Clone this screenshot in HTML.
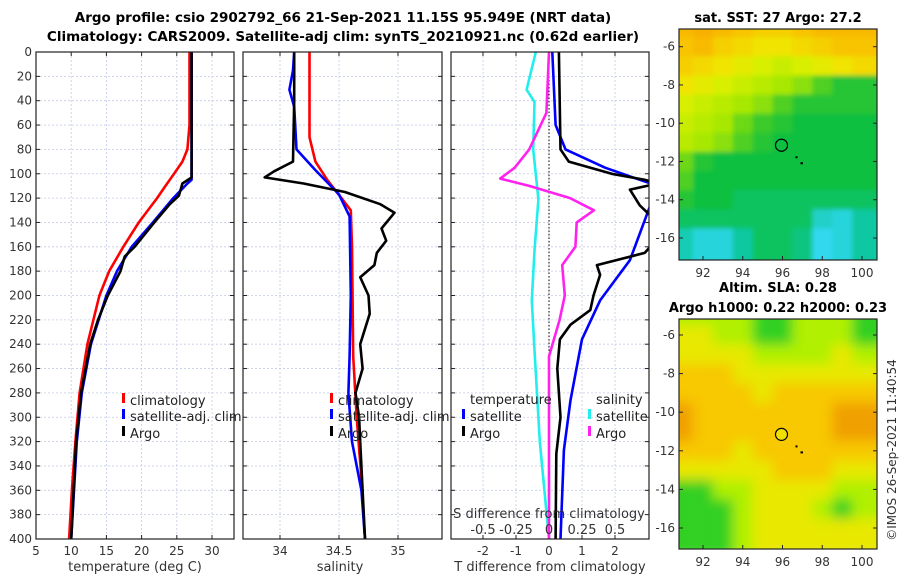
<!DOCTYPE html>
<html><head><meta charset="utf-8">
<style>
html,body{margin:0;padding:0;background:#fff;}
svg{display:block;font-family:"DejaVu Sans","Liberation Sans",sans-serif;}
.tk{font-size:12px;fill:#333;}
.ttl{font-size:13px;font-weight:bold;fill:#000;}
.lg{font-size:13px;fill:#222;}
</style></head>
<body>
<svg id="fig" width="900" height="580" viewBox="0 0 900 580">
<defs>
<clipPath id="c1"><rect x="36" y="52" width="198" height="487"/></clipPath>
<clipPath id="c2"><rect x="243" y="52" width="199" height="487"/></clipPath>
<clipPath id="c3"><rect x="451" y="52" width="198" height="487"/></clipPath>
<clipPath id="cm1"><rect x="679" y="29" width="198" height="231"/></clipPath>
<clipPath id="cm2"><rect x="679" y="319" width="198" height="230"/></clipPath>
<filter id="blr" x="-5%" y="-5%" width="110%" height="110%"><feGaussianBlur stdDeviation="6"/></filter>
<filter id="blr2" x="-5%" y="-5%" width="110%" height="110%"><feGaussianBlur stdDeviation="2.5"/></filter>
</defs>
<text class="ttl" x="343" y="22" text-anchor="middle" style="font-size:13.5px">Argo profile: csio 2902792_66 21-Sep-2021 11.15S 95.949E (NRT data)</text>
<text class="ttl" x="343" y="41" text-anchor="middle" style="font-size:13.5px">Climatology: CARS2009. Satellite-adj clim: synTS_20210921.nc (0.62d earlier)</text>
<text class="ttl" x="778" y="22" text-anchor="middle">sat. SST: 27 Argo: 27.2</text>
<text class="ttl" x="778" y="292" text-anchor="middle">Altim. SLA: 0.28</text>
<text class="ttl" x="778" y="312" text-anchor="middle">Argo h1000: 0.22 h2000: 0.23</text>
<text class="tk" transform="translate(896,450) rotate(-90)" text-anchor="middle" style="font-size:12px">©IMOS 26-Sep-2021 11:40:54</text>
<g id="root"></g>
</svg>
<script>
// ---- depth axis ----
const depthTicks=[0,20,40,60,80,100,120,140,160,180,200,220,240,260,280,300,320,340,360,380,400];
// ---- temperature panel ----
const tTicks=[5,10,15,20,25,30];
const climTdepth=[0,60,80,90,100,110,120,140,160,180,200,240,280,320,360,400];
const climT=[26.8,26.8,26.5,25.8,24.6,23.4,22.2,19.6,17.4,15.4,14.0,12.3,11.2,10.6,10.1,9.7];
const satTdepth=[0,105,108,120,140,160,180,200,240,280,320,400];
const satT=[27.1,27.1,26.5,24.5,21.6,18.6,16.5,15.0,12.8,11.5,10.8,10.0];
const argoTdepth=[0,103,108,118,125,140,160,168,180,200,220,240,280,320,400];
const argoT=[27.1,27.1,25.8,25.3,24.0,21.8,19.0,17.6,17.0,15.2,13.8,12.7,11.4,10.7,10.0];
// ---- salinity panel ----
const sTicks=[34,34.5,35];
const climSdepth=[0,70,90,105,120,130,160,250,300,350,400];
const climS=[34.25,34.25,34.3,34.4,34.52,34.6,34.61,34.62,34.65,34.69,34.72];
const satSdepth=[0,15,31,45,80,97,117,135,200,250,280,320,360,400];
const satS=[34.12,34.11,34.08,34.12,34.14,34.3,34.5,34.59,34.6,34.59,34.58,34.61,34.69,34.72];
const argoSdepth=[0,40,90,98,103,108,115,125,132,145,155,165,175,185,200,215,240,260,280,300,320,400];
const argoS=[34.12,34.12,34.11,33.95,33.87,34.2,34.55,34.85,34.97,34.86,34.9,34.82,34.8,34.68,34.75,34.76,34.68,34.7,34.64,34.67,34.68,34.72];
// ---- difference panel ----
const dTTicks=[-2,-1,0,1,2];
const dSTickVals=[-0.5,-0.25,0,0.25,0.5];
const dSTickLabels=["-0.5","-0.25","0","0.25","0.5"];
const dTsatDepth=[0,60,80,95,105,110,131,171,204,236,286,327,400];
const dTsat=[0.1,0.2,0.5,1.7,2.75,3.3,3.0,2.45,1.55,1.0,0.65,0.45,0.35];
const dTargoDepth=[0,80,90,100,105,108,113,126,135,150,165,175,183,200,212,224,236,260,300,330,400];
const dTargo=[0.3,0.35,0.6,1.9,2.9,3.3,2.45,2.75,3.1,3.4,2.9,1.45,1.55,1.35,1.25,0.65,0.33,0.25,0.35,0.22,0.2];
const dSsatDepth=[0,31,41,80,121,163,204,245,320,400];
const dSsat=[-0.1,-0.17,-0.11,-0.12,-0.08,-0.11,-0.13,-0.11,-0.07,0.0];
const dSargoDepth=[0,50,80,95,104,110,120,130,140,160,175,200,220,250,300,400];
const dSargo=[0.0,-0.02,-0.15,-0.26,-0.37,-0.15,0.16,0.34,0.21,0.2,0.1,0.12,0.08,0.0,0.0,0.0];
// ---- maps ----
const lonTicks=[92,94,96,98,100];
const latTicks=[-6,-8,-10,-12,-14,-16];
const sstGrid=[
[28.4,28.5,28.4,28.3,28.2,28.2,28.3,28.4,28.4,28.4],
[28.3,28.4,28.2,28.1,28.0,28.0,28.1,28.2,28.3,28.3],
[28.2,28.1,28.0,27.9,27.8,27.7,27.8,27.9,28.0,28.1],
[28.0,27.9,27.8,27.7,27.6,27.5,27.4,27.2,27.0,27.0],
[27.8,27.7,27.6,27.5,27.4,27.2,27.0,27.0,27.0,27.0],
[27.7,27.6,27.5,27.3,27.1,27.0,26.9,26.9,26.9,26.9],
[27.6,27.5,27.4,27.2,27.0,26.9,26.9,26.9,26.9,26.9],
[27.3,27.0,26.9,26.9,26.9,26.9,26.9,26.9,26.9,26.9],
[27.2,26.9,26.9,26.9,26.9,26.9,26.9,26.9,26.9,26.9],
[27.0,26.9,26.9,26.8,26.8,26.8,26.8,26.8,26.8,26.8],
[26.8,26.8,26.8,26.8,26.8,26.8,26.8,26.4,26.3,26.6],
[26.5,26.3,26.3,26.6,26.8,26.8,26.7,26.2,26.3,26.6]];
const slaGrid=[
[1,1,1,1,0,0,1,1,1,0],
[2,2,1,1,0,0,1,1,1,0],
[2,2,2,2,1,1,1,1,2,1],
[3,3,3,2,2,2,2,2,2,2],
[3,3,3,3,2,3,3,3,3,3],
[4,3,3,3,3,3,3,3,4,4],
[4,3,3,3,3,3,3,3,4,4],
[3,3,3,2,3,3,3,3,3,3],
[2,2,2,2,2,3,3,3,2,2],
[0,0,1,1,2,2,2,2,1,1],
[0,0,0,1,2,2,2,1,0,1],
[0,0,0,1,2,2,2,2,2,2]];
const argoPos=[95.949,-11.15];

const NS="http://www.w3.org/2000/svg";
const root=document.getElementById('root');
function el(tag,attrs,parent){const e=document.createElementNS(NS,tag);for(const k in attrs)e.setAttribute(k,attrs[k]);(parent||root).appendChild(e);return e;}
const Y0=52,Y1=539;
const yD=d=>Y0+d*(Y1-Y0)/400;
function lin(d0,d1,p0,p1){return v=>p0+(v-d0)*(p1-p0)/(d1-d0);}
const xT=lin(5,30,36,212);
const xS=lin(34,35,280,398);
const xDT=lin(0,1,549,582);
const xDS=lin(0,0.25,549,582);

function panel(x0,x1,name,xticks,xfn,labels,showY){
  const g=el('g',{});
  
  
  depthTicks.forEach(d=>{
    const l=el('line',{x1:x0,x2:x1,y1:yD(d),y2:yD(d),stroke:'#c4cbe6','stroke-width':0.8,'stroke-dasharray':'2,2'},g);
    
    
    el('line',{x1:x0,x2:x0+4,y1:yD(d),y2:yD(d),stroke:'#222'},g);
    el('line',{x1:x1-4,x2:x1,y1:yD(d),y2:yD(d),stroke:'#222'},g);
    if(showY){const t=el('text',{x:x0-4,y:yD(d)+4,'text-anchor':'end',class:'tk'},g);t.textContent=d;
      
      }
  });
  xticks.forEach((v,i)=>{
    const x=xfn(v);
    const l=el('line',{x1:x,x2:x,y1:Y0,y2:Y1,stroke:'#c4cbe6','stroke-width':0.8,'stroke-dasharray':'2,2'},g);
    
    
    el('line',{x1:x,x2:x,y1:Y1-4,y2:Y1,stroke:'#222'},g);
    el('line',{x1:x,x2:x,y1:Y0,y2:Y0+4,stroke:'#222'},g);
    if(labels){const t=el('text',{x:x,y:555,'text-anchor':'middle',class:'tk'},g);t.textContent=labels[i];
      
      }
  });
  return g;
}
function line(depths,vals,xfn,color,clip,name,w){
  const pts=depths.map((d,i)=>xfn(vals[i]).toFixed(1)+','+yD(d).toFixed(1)).join(' ');
  const p=el('polyline',{points:pts,fill:'none',stroke:color,'stroke-width':w||2.6,'stroke-linejoin':'round','clip-path':'url(#'+clip+')'});
  
  
}
function frame(x0,x1,name){const r=el('rect',{x:x0,y:Y0,width:x1-x0,height:Y1-Y0,fill:'none',stroke:'#222','stroke-width':1.2});
  
  }
function txt(x,y,s,cls,anchor,name){const t=el('text',{x:x,y:y,class:cls,'text-anchor':anchor||'start'});t.textContent=s;
  
  return t;}
function legItem(x,y,color,label,name){
  el('rect',{x:x-2,y:y-8,width:3,height:10,fill:color});
  txt(x+6,y+4,label,'lg','start',name);
}

// Panel 1
panel(36,234,'temperature-panel',tTicks,xT,tTicks.map(String),true);
line(climTdepth,climT,xT,'#ff0000','c1','climatology-temperature-line');
line(satTdepth,satT,xT,'#0000ff','c1','satellite-temperature-line');
line(argoTdepth,argoT,xT,'#000000','c1','argo-temperature-line');
frame(36,234,'temperature-panel-frame');
txt(135,571,'temperature (deg C)','tk','middle','temperature-axis-title').style.fontSize='13px';
legItem(124,401,'#ff0000','climatology','legend-climatology');
legItem(124,417,'#0000ff','satellite-adj. clim','legend-satellite');
legItem(124,434,'#000000','Argo','legend-argo');

// Panel 2
panel(243,442,'salinity-panel',sTicks,xS,['34','34.5','35'],false);
line(climSdepth,climS,xS,'#ff0000','c2','climatology-salinity-line');
line(satSdepth,satS,xS,'#0000ff','c2','satellite-salinity-line');
line(argoSdepth,argoS,xS,'#000000','c2','argo-salinity-line');
frame(243,442,'salinity-panel-frame');
txt(340,571,'salinity','tk','middle','salinity-axis-title').style.fontSize='13px';
legItem(332,401,'#ff0000','climatology','legend-climatology-s');
legItem(332,417,'#0000ff','satellite-adj. clim','legend-satellite-s');
legItem(332,434,'#000000','Argo','legend-argo-s');

// Panel 3
panel(451,649,'difference-panel',dTTicks,xDT,['-2','-1','0','1','2'],false);
el('line',{x1:549,x2:549,y1:Y0,y2:Y1,stroke:'#000','stroke-width':1,'stroke-dasharray':'1.5,2'});
line(dSsatDepth,dSsat,xDS,'#22eeee','c3','satellite-salinity-diff-line');
line(dSargoDepth,dSargo,xDS,'#ff22ee','c3','argo-salinity-diff-line');
line(dTsatDepth,dTsat,xDT,'#0000ff','c3','satellite-temperature-diff-line');
line(dTargoDepth,dTargo,xDT,'#000000','c3','argo-temperature-diff-line');
frame(451,649,'difference-panel-frame');
txt(550,571,'T difference from climatology','tk','middle','t-diff-axis-title').style.fontSize='13px';
txt(549,518,'S difference from climatology','tk','middle','s-diff-axis-title').style.fontSize='13px';
dSTickVals.forEach((v,i)=>{txt(xDS(v),534,dSTickLabels[i],'tk','middle','s-diff-tick-label').style.fontSize='13px';});
txt(470,404,'temperature','lg','start','legend-temperature-heading');
txt(596,404,'salinity','lg','start','legend-salinity-heading');
legItem(464,417,'#0000ff','satellite','legend-t-satellite');
legItem(464,434,'#000000','Argo','legend-t-argo');
legItem(590,417,'#22eeee','satellite','legend-s-satellite');
legItem(590,434,'#ff22ee','Argo','legend-s-argo');

// Maps
function hex(c){return [parseInt(c.substr(1,2),16),parseInt(c.substr(3,2),16),parseInt(c.substr(5,2),16)];}
function cmap(stops,v){
  if(v<=stops[0][0])return stops[0][1];
  for(let i=1;i<stops.length;i++){if(v<=stops[i][0]){const a=stops[i-1],b=stops[i];const f=(v-a[0])/(b[0]-a[0]);const ca=hex(a[1]),cb=hex(b[1]);
    return 'rgb('+ca.map((c,k)=>Math.round(c+(cb[k]-c)*f)).join(',')+')';}}
  return stops[stops.length-1][1];
}
const sstStops=[[26.2,'#30d8f0'],[26.6,'#10c8a0'],[26.9,'#10c040'],[27.2,'#50d020'],[27.5,'#a8e800'],[27.8,'#d8f000'],[28.0,'#f0e400'],[28.3,'#f8c400'],[28.5,'#f8b000']];
const slaStops=[[0,'#30d020'],[1,'#b0f000'],[2,'#e8e800'],[3,'#f8c800'],[4,'#f0a000']];
function map(grid,stops,top,bottom,latA,latB,clip,name,filt,circFill){
  const xL=lin(92,100,703,862), yL=lin(latA[0],latB[0],latA[1],latB[1]);
  const g=el('g',{'clip-path':'url(#'+clip+')'});
  
  
  const gi=el('g',{filter:'url(#'+filt+')'},g);
  grid.forEach((row,r)=>row.forEach((v,c)=>{
    const lon=91+c, lat=-5-r;
    const rc=el('rect',{x:xL(lon-0.5-(c==0?1:0)),y:yL(lat+(r==0?1.5:0.5)),width:xL(1)-xL(0)+(c==0||c==9?20:0.5),height:yL(-1)-yL(0)+(r==0||r==11?20:0.5),fill:cmap(stops,v)},gi);
    
    
  }));
  const cx=xL(argoPos[0]), cy=yL(argoPos[1]);
  const ci=el('circle',{cx:cx,cy:cy,r:6,fill:circFill,stroke:'#000','stroke-width':1.2});
  
  
  el('rect',{x:cx+14,y:cy+11,width:2,height:2,fill:'#000'});
  el('rect',{x:cx+19,y:cy+17,width:2.5,height:2,fill:'#000'});
  const fr=el('rect',{x:679,y:top,width:198,height:bottom-top,fill:'none',stroke:'#222','stroke-width':1.2});
  
  
  lonTicks.forEach(lo=>{const x=xL(lo);
    el('line',{x1:x,x2:x,y1:bottom-4,y2:bottom,stroke:'#222'});
    txt(x,bottom+17,String(lo),'tk','middle','lon-tick-label');});
  latTicks.forEach(la=>{const y=yL(la);
    el('line',{x1:679,x2:683,y1:y,y2:y,stroke:'#222'});
    el('line',{x1:873,x2:877,y1:y,y2:y,stroke:'#222'});
    txt(675,y+4,String(la),'tk','end','lat-tick-label');});
}
map(sstGrid,sstStops,29,260,[-6,46.7],[-16,238],'cm1','sst-map','blr2','none');
map(slaGrid,slaStops,319,549,[-6,335],[-16,528],'cm2','sla-map','blr','#f0e000');
</script>
</body></html>
